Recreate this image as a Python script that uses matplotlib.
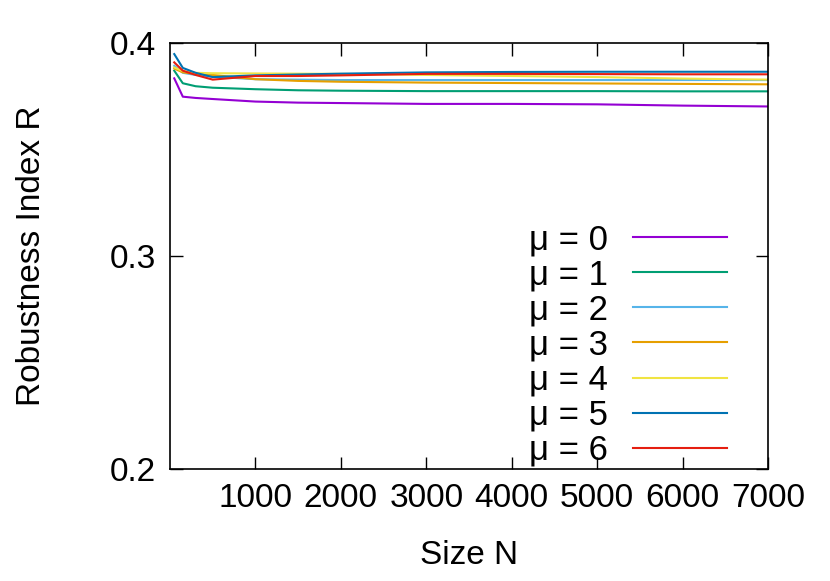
import numpy as np
import matplotlib.pyplot as plt

plt.rcParams['font.family'] = ['Liberation Sans', 'DejaVu Sans']

# sample sizes
N = [50, 150, 300, 500, 1000, 1500, 2000, 3000, 4000, 5000, 6000, 7000]

# robustness index per mu
r0 = [0.3834, 0.3748, 0.3742, 0.3737, 0.3725, 0.3720, 0.3718, 0.3714, 0.3714, 0.3712, 0.3706, 0.3702]
r1 = [0.3870, 0.3811, 0.3797, 0.3790, 0.3783, 0.3778, 0.3776, 0.3774, 0.3774, 0.3774, 0.3773, 0.3773]
r2 = [0.3893, 0.3860, 0.3850, 0.3842, 0.3830, 0.3828, 0.3826, 0.3826, 0.3826, 0.3826, 0.3826, 0.3826]
r3 = [0.3880, 0.3862, 0.3855, 0.3850, 0.3830, 0.3822, 0.3818, 0.3814, 0.3812, 0.3810, 0.3808, 0.3806]
r4 = [0.3885, 0.3868, 0.3860, 0.3858, 0.3857, 0.3856, 0.3855, 0.3850, 0.3845, 0.3840, 0.3833, 0.3828]
r5 = [0.3948, 0.3883, 0.3860, 0.3840, 0.3848, 0.3852, 0.3856, 0.3862, 0.3864, 0.3865, 0.3865, 0.3865]
r6 = [0.3909, 0.3870, 0.3850, 0.3828, 0.3845, 0.3845, 0.3848, 0.3855, 0.3855, 0.3854, 0.3853, 0.3853]
series = [r0, r1, r2, r3, r4, r5, r6]
labels = ['\u03bc = %d' % i for i in range(7)]
colors = ['#9400d3', '#009e73', '#56b4e9', '#e69f00', '#f0e442', '#0072b2', '#e51e10']

fig = plt.figure(figsize=(8.3, 5.81), dpi=100)
ax = fig.add_axes([0.2048, 0.1928, 0.7205, 0.7332])

for r, lab, c in zip(series, labels, colors):
    ax.plot(N, r, color=c, lw=1.5, label=lab)

ax.set_xlim(0, 7000)
ax.set_ylim(0.2, 0.4)
ax.set_xticks([1000, 2000, 3000, 4000, 5000, 6000, 7000])
ax.set_yticks([0.2, 0.3, 0.4])
ax.tick_params(direction='in', top=True, right=True, length=9, width=1, labelsize=24, pad=10)
for s in ax.spines.values():
    s.set_linewidth(1.2)

ax.set_xlabel('Size N', fontsize=24, labelpad=19)
ax.set_ylabel('Robustness Index R', fontsize=24, labelpad=45)

ax.legend(loc='lower right', bbox_to_anchor=(0.972, -0.052), frameon=False, markerfirst=False,
          prop={'size': 25}, handlelength=2.7, handletextpad=0.72, labelspacing=0.06, borderaxespad=0.3)

fig.savefig('out.png', dpi=100)
